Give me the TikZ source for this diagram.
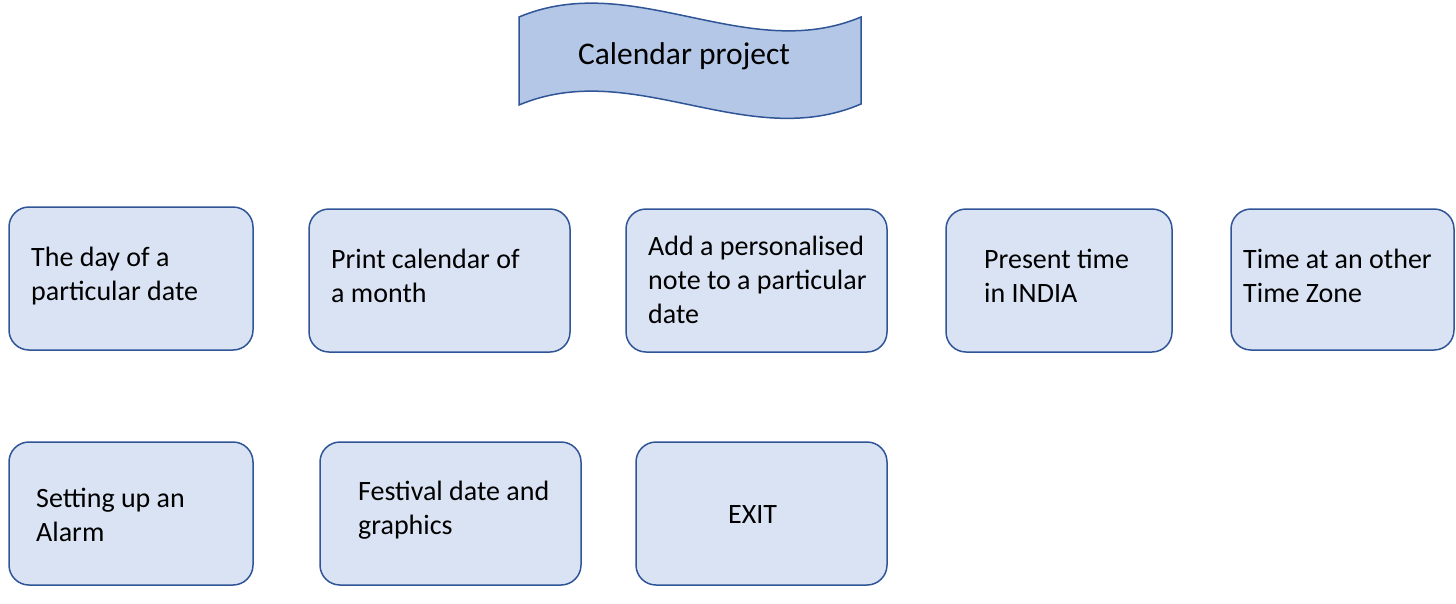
\documentclass[tikz,border=0pt]{standalone}
\usepackage{fontspec}
\setmainfont{Carlito}
\definecolor{boxfill}{HTML}{DAE3F3}
\definecolor{boxline}{HTML}{2F5597}
\definecolor{banfill}{HTML}{B4C7E7}
\begin{document}
\begin{tikzpicture}[x=1pt,y=-1pt,
  rbox/.style={draw=boxline,fill=boxfill,line width=1.5pt,rounded corners=20pt},
  btext/.style={anchor=west,align=left,inner sep=0pt,font=\fontsize{28}{34}\selectfont}]
\useasboundingbox (0,0) rectangle (1456,603);
% banner
\draw[draw=boxline,fill=banfill,line width=1.5pt] (519,17) .. controls (633,-31) and (747,65) .. (861,17)
  -- (861,104) .. controls (747,153) and (633,57) .. (519,105) -- cycle;
\node[inner sep=0pt,font=\fontsize{31.5}{36}\selectfont] (title) at (684,56) {Calendar project};
% boxes
\draw[rbox] (9,207) rectangle (253,350);
\node[btext] (t1) at (31,276) {The day of a\\particular date};
\draw[rbox] (309,209) rectangle (570,352);
\node[btext] (t2) at (331,276) {Print calendar of\\a month};
\draw[rbox] (626,209) rectangle (887,352);
\node[btext] (t3) at (648,280) {Add a personalised\\note to a particular\\date};
\draw[rbox] (946,209) rectangle (1172,352);
\node[btext] (t4) at (984,276) {Present time\\in INDIA};
\draw[rbox] (1231,209) rectangle (1454,350);
\node[btext] (t5) at (1243,276) {Time at an other\\Time Zone};
\draw[rbox] (9,442) rectangle (253,585);
\node[btext] (t6) at (36,515) {Setting up an\\Alarm};
\draw[rbox] (320,442) rectangle (581,585);
\node[btext] (t7) at (358,510) {Festival date and\\graphics};
\draw[rbox] (636,442) rectangle (887,585);
\node[btext] (t8) at (728,515) {EXIT};
\end{tikzpicture}
\end{document}
